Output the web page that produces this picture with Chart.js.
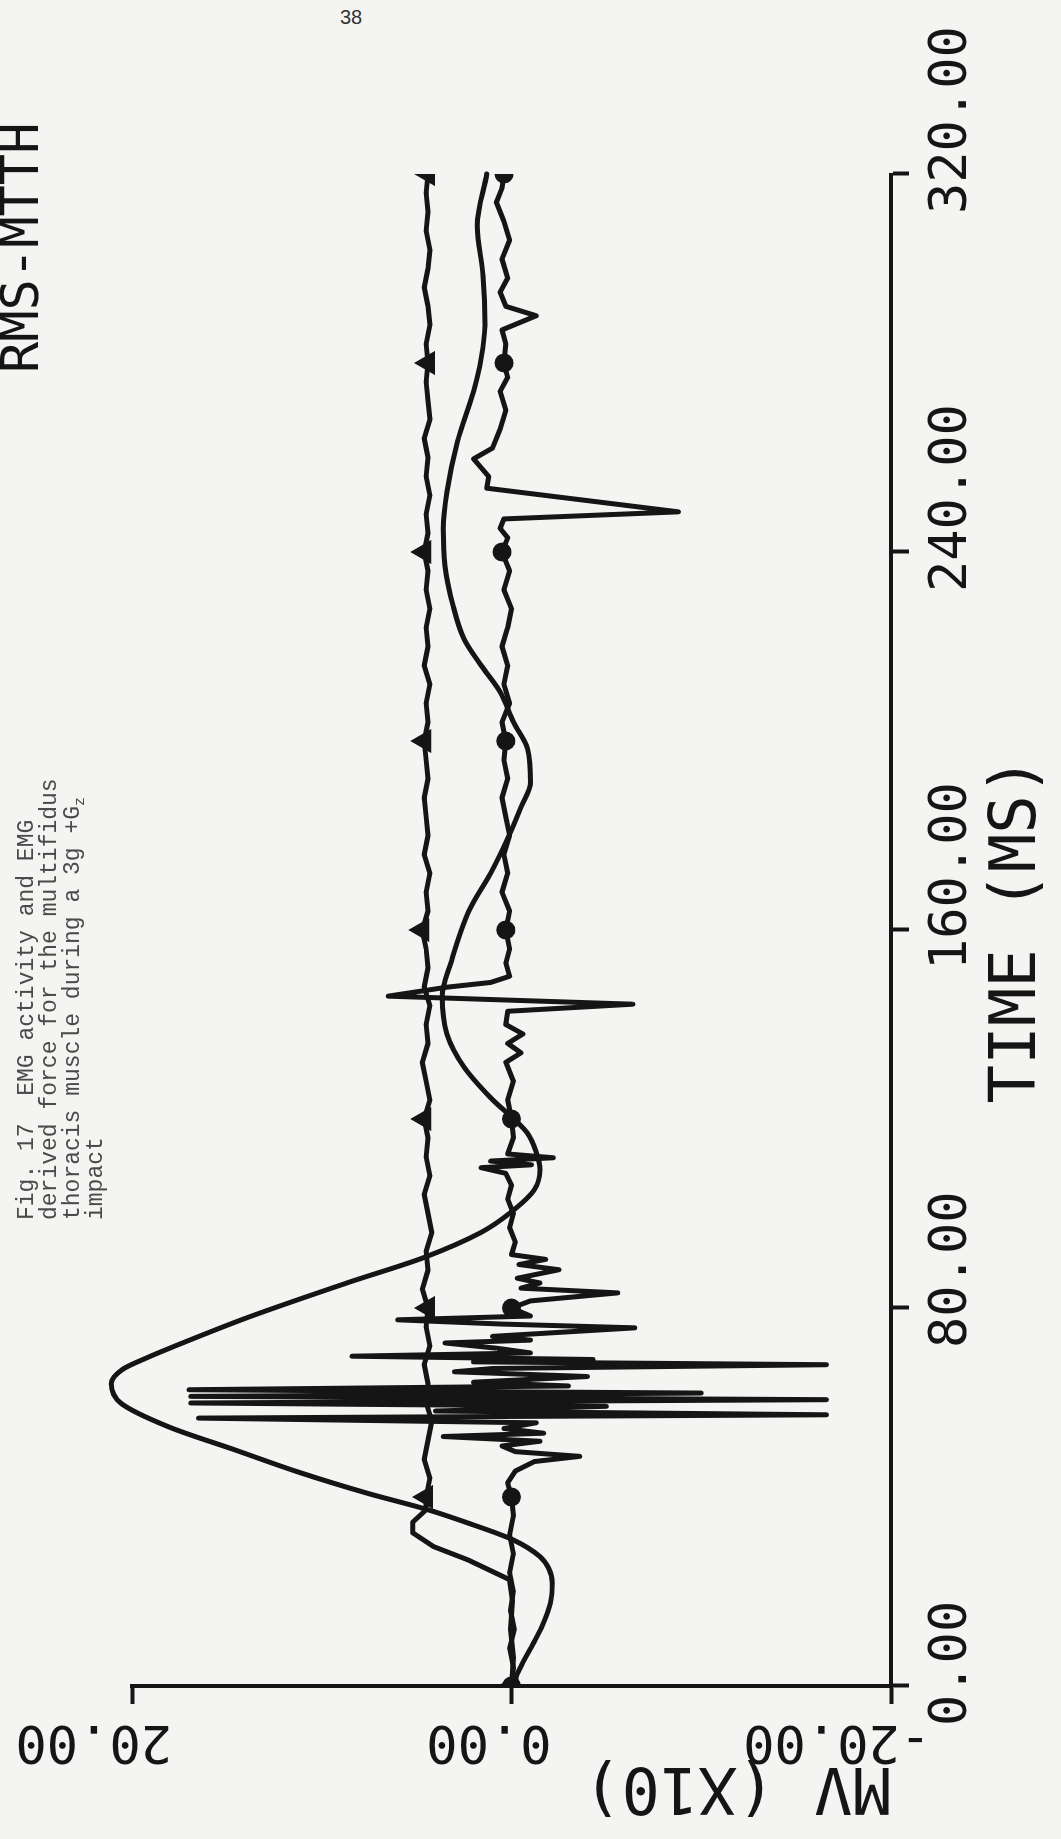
<!DOCTYPE html>
<html>
<head>
<meta charset="utf-8">
<script src="https://cdn.jsdelivr.net/npm/chart.js@4.4.1/dist/chart.umd.min.js"></script>
<style>
  html, body { margin: 0; padding: 0; background: #f4f4f2; }
  body { width: 1061px; height: 1839px; position: relative; overflow: hidden; }
  #page-number { position: absolute; left: 340px; top: 6px; font: 20px "Liberation Sans", sans-serif; color: #333; }
  /* the plot is drawn landscape and turned a quarter turn, like the scanned page */
  #sheet { position: absolute; left: 0; top: 1839px; width: 1839px; height: 1061px; transform-origin: 0 0; transform: rotate(-90deg); }
  #sheet canvas { position: absolute; left: 0; top: 0; }
  #caption { position: absolute; left: 619px; top: 16px; font: 23px/23px "Liberation Mono", monospace; color: #4a4a4a; white-space: pre; }
  #caption sub { font-size: 15px; line-height: 0; vertical-align: -5px; }
  #legend { position: absolute; left: 1466px; top: -6px; font: 52px/52px "DejaVu Sans Mono", monospace; color: #151515; white-space: pre; }
</style>
</head>
<body>
<div id="page-number">38</div>
<div id="sheet">
  <canvas id="chart" width="1839" height="1061"></canvas>
  <div id="caption"><div>Fig. 17  EMG activity and EMG</div><div>derived force for the multifidus</div><div>thoracis muscle during a 3g +G<sub>z</sub></div><div>impact</div></div>
  <div id="legend">RMS-MTTH</div>
</div>
<script>
const INK = "#151515";
const PLOT_FONT = '"DejaVu Sans Mono", monospace';

const timeTicks = [0, 80, 160, 240, 320];
const timeTickLabels = ["0.00", "80.00", "160.00", "240.00", "320.00"];
const mvTicks = [-20, 0, 20];
const mvTickLabels = ["-20.00", "0.00", "20.00"];
const markerTimes = [0, 40, 80, 120, 160, 200, 240, 280, 320];

// derived force (smooth curve)
const forceTimes = [0, 5, 9, 13, 17.5, 21.8, 25, 27.4, 30.9, 34.5,
  37.3, 40.8, 45.1, 50, 54.9, 59.9, 64, 67, 69.5, 72.5,
  78, 85.4, 90.7, 96, 100.2, 105, 109.3, 113, 117.2, 124.5,
  131, 138, 146, 153, 164.4, 172, 180.7, 186, 191.3, 198.3,
  204, 210.4, 216, 221.6, 229, 237, 245, 252.8, 263.3, 274,
  281, 288, 298.5, 309, 320];
const forceValues = [0, -0.6, -1.15, -1.65, -2.05, -2.15, -1.95, -1.5, -0.1, 2.3,
  4.4, 7.6, 11.1, 14.6, 18.1, 20.6, 21.1, 20.5, 19.2, 17.4,
  13.9, 8.6, 4.6, 1.6, 0.05, -1.2, -1.5, -1.3, -0.8, 1.1,
  2.5, 3.4, 3.65, 3.2, 2.2, 1.1, 0.05, -0.5, -1.0, -0.85,
  -0.1, 0.6, 1.6, 2.5, 3.1, 3.5, 3.6, 3.4, 2.85, 2.0,
  1.6, 1.4, 1.5, 1.8, 1.3];

// RMS trace (triangle markers)
const rmsTimes = [0, 6, 12, 18, 22.5, 26.7, 29.5, 32.4, 34.7, 37.3,
  40, 44, 48, 52, 56, 60, 64, 68, 72, 76,
  80, 84, 88, 92, 96, 100, 104, 108, 112, 116,
  120, 124, 128, 132, 136, 140, 144, 148, 152, 156,
  160, 164, 168, 172, 176, 180, 184, 188, 192, 196,
  200, 204, 208, 212, 216, 220, 224, 228, 232, 236,
  240, 244, 248, 252, 256, 260, 264, 268, 272, 276,
  280, 284, 288, 292, 296, 300, 304, 308, 312, 316,
  320];
const rmsValues = [0, -0.1, 0.05, -0.05, 0.1, 2.3, 4.1, 5.2, 5.2, 4.5,
  4.5, 4.3, 4.6, 4.4, 4.2, 4.5, 4.4, 4.6, 4.3, 4.5,
  4.4, 4.7, 4.4, 4.5, 4.2, 4.4, 4.6, 4.3, 4.5, 4.4,
  4.6, 4.3, 4.5, 4.7, 4.4, 4.5, 4.3, 4.6, 4.4, 4.5,
  4.7, 4.4, 4.5, 4.3, 4.6, 4.4, 4.5, 4.6, 4.4, 4.5,
  4.6, 4.4, 4.5, 4.3, 4.6, 4.4, 4.5, 4.3, 4.5, 4.4,
  4.6, 4.4, 4.5, 4.3, 4.5, 4.4, 4.6, 4.3, 4.4, 4.5,
  4.4, 4.5, 4.3, 4.4, 4.6, 4.4, 4.3, 4.5, 4.4, 4.5,
  4.4];

// raw EMG (circle markers)
const emgTimes = [0, 4, 8, 12, 16, 20, 24, 28, 32, 36,
  40, 43, 45.5, 47.5, 48.6, 49.6, 50.8, 51.8, 52.8, 53.5,
  54.5, 55.7, 56.7, 57.4, 58.2, 59.2, 59.9, 60.6, 61.3, 62,
  62.7, 63.5, 64.3, 65.5, 66.5, 67.2, 68, 68.6, 69.1, 69.8,
  70.5, 71.5, 72.6, 73.2, 74, 75.8, 76.6, 77.5, 78.3, 80,
  81.5, 83.2, 84.2, 85.3, 86.3, 88.1, 89.2, 90.3, 91.3, 94,
  97, 100, 103, 106, 108.5, 109.7, 110.3, 111.1, 111.8, 112.6,
  116, 120, 124, 128, 132, 134, 136, 138, 140, 142.8,
  144.3, 146, 147.9, 148.9, 150.2, 153, 156, 160, 164, 168,
  172, 176, 180, 184, 188, 192, 196, 200, 204, 208,
  212, 216, 220, 224, 228, 232, 236, 240, 243, 245,
  247, 248.5, 253.5, 256, 259.7, 262, 266, 270, 274, 277,
  280, 284, 287, 290, 292, 295, 298, 302, 306, 310,
  314, 317, 320];
const emgValues = [0, -0.1, 0.1, -0.15, 0.05, -0.1, 0.1, -0.1, 0.1, -0.1,
  0, 0.2, -0.2, -1.2, -3.6, -0.2, 0.5, -1.5, 3.6, -1.7,
  0.4, -1.3, 16.5, -16.6, 4, -5, 16.9, -16.6, 16.9, -10,
  17, -3, 2, -4, 3, 1, -16.6, 2, -4.3, 8.4,
  -1, 0.8, 3.5, -1, 1, -6.5, 0.5, 6, -1, 0,
  -1, -5.6, -0.5, -1.5, -0.3, -2.5, -0.4, -1.8, 0, -0.2,
  0.1, -0.1, 0.2, 0, 0.3, 1.6, -1.05, 1.1, -2.2, 0.2,
  -0.1, 0, 0.2, -0.1, 0.3, -0.5, 0.2, -0.6, 0.3, 0.2,
  -6.4, 6.5, 3.4, 1.1, 0.1, 0.3, 0.1, 0.3, 0.1, 0.5,
  0.2, 0.4, 0.1, 0.3, 0.5, 0.2, 0.4, 0.3, 0.5, 0.1,
  0.4, 0.2, 0.5, 0.2, 0, 0.4, 0.1, 0.5, 0.2, 0.6,
  0.4, -8.8, 1.3, 1.2, 2, 1, 0.6, 0.3, 0.6, 0.2,
  0.4, 0.3, 0.5, -1.3, 0.3, 0.6, 0.2, 0.5, 0.1, 0.4,
  0.8, 0.5, 0.4];

function toPoints(times, values) {
  return times.map((t, i) => ({ x: t, y: values[i] }));
}

function markerRadius(size) {
  return (ctx) => (ctx.raw && markerTimes.includes(ctx.raw.x) ? size : 0);
}

// keep the plot box fixed whatever the labels ask for
function pinScale(size) {
  return (scale) => {
    if (scale.isHorizontal()) {
      scale.height = size;
    } else {
      scale.width = size;
    }
    scale.paddingLeft = 0;
    scale.paddingRight = 0;
    scale.paddingTop = 0;
    scale.paddingBottom = 0;
  };
}

// MV labels on the plotter read the other way round, so they are drawn here
const mvAxisTextPlugin = {
  id: "mvAxisText",
  afterDraw(chart, args, opts) {
    const { ctx } = chart;
    const scale = chart.scales.y;
    ctx.save();
    ctx.fillStyle = INK;
    ctx.textBaseline = "middle";
    ctx.textAlign = "left";
    ctx.font = `52px ${PLOT_FONT}`;
    mvTicks.forEach((value, i) => {
      const y = scale.getPixelForValue(value);
      ctx.save();
      ctx.translate(opts.tickX, y + opts.tickShift);
      ctx.rotate(-Math.PI / 2);
      ctx.fillText(mvTickLabels[i], 0, 0);
      ctx.restore();
    });
    ctx.font = `64px ${PLOT_FONT}`;
    ctx.textAlign = "center";
    ctx.translate(opts.titleX, opts.titleY);
    ctx.rotate(-Math.PI / 2);
    ctx.fillText(opts.title, 0, 0);
    ctx.restore();
  },
};

new Chart(document.getElementById("chart"), {
  type: "line",
  plugins: [mvAxisTextPlugin],
  data: {
    datasets: [
      {
        label: "force",
        data: toPoints(forceTimes, forceValues),
        borderColor: INK,
        borderWidth: 5,
        pointRadius: 0,
        cubicInterpolationMode: "monotone",
        borderJoinStyle: "round",
        borderCapStyle: "round",
        clip: false,
      },
      {
        label: "RMS-MTTH",
        data: toPoints(rmsTimes, rmsValues),
        borderColor: INK,
        borderWidth: 5,
        tension: 0,
        pointStyle: "triangle",
        pointRadius: markerRadius(9),
        pointBackgroundColor: INK,
        pointBorderColor: INK,
        borderJoinStyle: "round",
      },
      {
        label: "EMG",
        data: toPoints(emgTimes, emgValues),
        borderColor: INK,
        borderWidth: 5,
        tension: 0,
        pointStyle: "circle",
        pointRadius: markerRadius(7),
        pointBackgroundColor: INK,
        pointBorderColor: INK,
        borderJoinStyle: "round",
        borderCapStyle: "round",
      },
    ],
  },
  options: {
    responsive: false,
    maintainAspectRatio: false,
    devicePixelRatio: 1,
    animation: false,
    events: [],
    layout: {
      padding: { left: 0, right: 174, top: 132, bottom: 0 },
    },
    plugins: {
      legend: { display: false },
      tooltip: { enabled: false },
      mvAxisText: { tickX: 99, tickShift: 40, titleX: 54, titleY: 737, title: "MV (X10)" },
    },
    scales: {
      x: {
        type: "linear",
        position: "bottom",
        min: 0,
        max: 320,
        afterBuildTicks(scale) {
          scale.ticks = timeTicks.map((value) => ({ value }));
        },
        afterFit: pinScale(170),
        border: { display: true, color: INK, width: 4 },
        grid: { drawOnChartArea: false, drawTicks: true, tickLength: 18, tickWidth: 4, tickColor: INK },
        ticks: {
          color: INK,
          padding: 12,
          align: "start",
          labelOffset: -40,
          maxRotation: 0,
          minRotation: 0,
          autoSkip: false,
          font: { family: PLOT_FONT, size: 52 },
          callback(value) {
            return timeTickLabels[timeTicks.indexOf(value)];
          },
        },
        title: {
          display: true,
          text: "TIME (MS)",
          color: INK,
          font: { family: PLOT_FONT, size: 64 },
          padding: { top: 0, bottom: 4 },
        },
      },
      y: {
        type: "linear",
        position: "left",
        min: -20,
        max: 20,
        afterBuildTicks(scale) {
          scale.ticks = mvTicks.map((value) => ({ value }));
        },
        afterFit: pinScale(153),
        border: { display: true, color: INK, width: 4 },
        grid: { drawOnChartArea: false, drawTicks: true, tickLength: 18, tickWidth: 4, tickColor: INK },
        ticks: { display: false },
      },
    },
  },
});
</script>
</body>
</html>
